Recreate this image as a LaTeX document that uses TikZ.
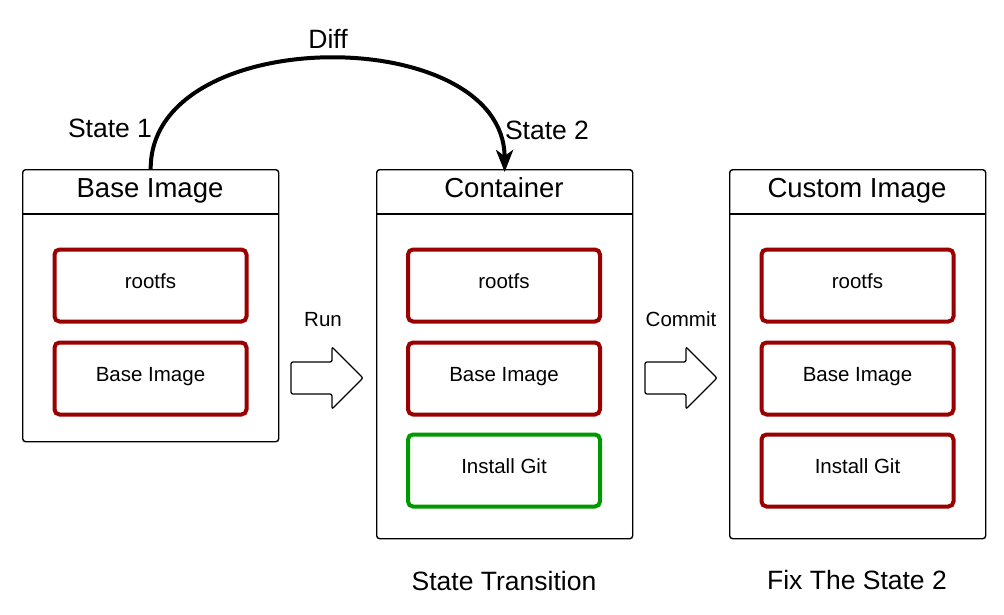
\documentclass[tikz,border=0pt]{standalone}
\usepackage{fontspec}
\setmainfont{Liberation Sans}
\usetikzlibrary{arrows.meta}
\definecolor{dred}{HTML}{990000}
\definecolor{dgreen}{HTML}{009900}
\begin{document}
\begin{tikzpicture}[x=1pt,y=-1pt,
  outerbox/.style={draw=black,line width=1.4pt,rounded corners=3pt,minimum width=256pt,anchor=north west,inner sep=0pt},
  innerbox/.style={draw=#1,line width=4pt,rounded corners=5pt,minimum width=192pt,minimum height=72pt,inner sep=0pt,text height=15pt,text depth=9pt,font=\fontsize{20.5}{23}\selectfont},
  innerbox/.default=dred,
  titletxt/.style={font=\fontsize{27.5}{31}\selectfont,inner sep=0pt,anchor=base},
  bigtxt/.style={font=\fontsize{26.5}{30}\selectfont,inner sep=0pt,anchor=base},
  smalltxt/.style={font=\fontsize{20.5}{23}\selectfont,inner sep=0pt,anchor=base},
  hollow/.style={draw=black,line width=1.3pt,rounded corners=2pt,fill=white}]
\useasboundingbox (0,0) rectangle (1004,615);
% outer boxes
\node[outerbox,minimum height=272pt] (b1) at (22,169) {};
\node[outerbox,minimum height=369pt] (b2) at (376,169) {};
\node[outerbox,minimum height=369pt] (b3) at (729,169) {};
\foreach \b in {b1,b2,b3}{
  \draw[line width=1.4pt] ([yshift=-45pt]\b.north west) -- ([yshift=-45pt]\b.north east);
}
% titles
\node[titletxt] (t1) at (150,197) {Base Image};
\node[titletxt] (t2) at (504,197) {Container};
\node[titletxt] (t3) at (857,197) {Custom Image};
% inner boxes
\node[innerbox] (r1) at (150.5,285.5) {rootfs};
\node[innerbox] (i1) at (150.5,378.5) {Base Image};
\node[innerbox] (r2) at (504,285.5) {rootfs};
\node[innerbox] (i2) at (504,378.5) {Base Image};
\node[innerbox=dgreen] (g2) at (504,470.5) {Install Git};
\node[innerbox] (r3) at (857.5,285.5) {rootfs};
\node[innerbox] (i3) at (857.5,378.5) {Base Image};
\node[innerbox] (g3) at (857.5,470.5) {Install Git};
% hollow arrows
\coordinate (ra) at (291,378);
\coordinate (ca) at (645,378);
\foreach \c in {ra,ca}{
  \draw[hollow] (\c) ++(0,-16) -- ++(41,0) -- ++(0,-15) -- ++(31,31) -- ++(-31,31) -- ++(0,-15) -- ++(-41,0) -- cycle;
}
\node[smalltxt] (run) at (323,326) {Run};
\node[smalltxt] (com) at (681,326) {Commit};
% labels
\node[bigtxt] (s1) at (110,138) {State 1};
\node[bigtxt] (s2) at (547,140) {State 2};
\node[bigtxt] (diff) at (328,49) {Diff};
\node[bigtxt] (st) at (504,590) {State Transition};
\node[bigtxt] (fx) at (857,589) {Fix The State 2};
% diff curve
\draw[line width=4pt,-{Stealth[length=22pt,width=17pt,inset=6pt]}] (b1.north) .. controls (150,22) and (504,22) .. ([yshift=-3pt]b2.north);
\end{tikzpicture}
\end{document}
